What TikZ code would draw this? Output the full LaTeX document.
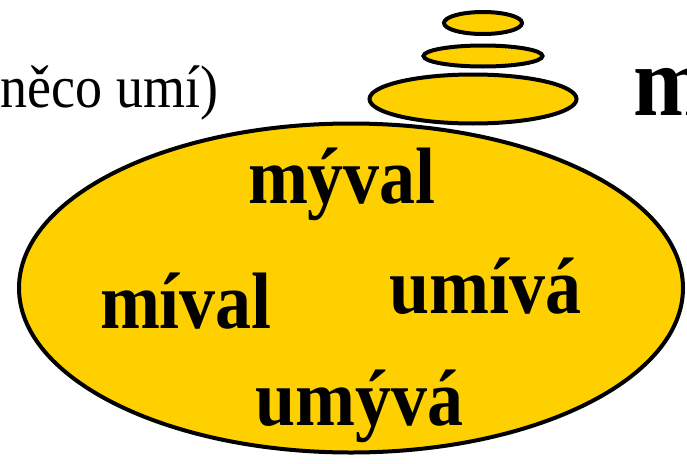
\documentclass[tikz,border=0pt]{standalone}
\usepackage{fontspec}
\newfontfamily\stonefont[FakeStretch=0.9]{Liberation Serif}
\usetikzlibrary{shapes.geometric, positioning}
\definecolor{stoneYellow}{RGB}{255,208,0}
\tikzset{
    x=1pt, y=-1pt, % coordinates follow the pixels of the picture
    every node/.style={inner sep=0pt, outer sep=0pt},
}

\begin{document}
\begin{tikzpicture}[
                                styleStone/.style={ellipse, draw=black, line width=4pt, fill=stoneYellow},
                                styleWord/.style={font=\stonefont\bfseries\fontsize{80}{80}\selectfont},
                            ]
                            \useasboundingbox (0,0) rectangle (687,463);
                            \clip (0,0) rectangle (687,463);
                            % the big stone and the pile on top
                            \node[styleStone, minimum width=664pt, minimum height=329pt] (big) at (351,288) {};
                            \node[styleStone, minimum width=207pt, minimum height=49pt] (pile1) at (473,99) {};
                            \node[styleStone, minimum width=119pt, minimum height=21pt] (pile2) at (483,56) {};
                            \node[styleStone, minimum width=78pt, minimum height=22pt] (pile3) at (483,23) {};
                            % words in the big stone
                            \node[styleWord, anchor=base west] (myval) at (248,203) {mýval};
                            \node[styleWord, anchor=base west] (mival) at (100,328) {míval};
                            \node[styleWord, anchor=base west] (umiva) at (389,313) {umívá};
                            \node[styleWord, anchor=base west] (umyva) at (255,425) {umývá};
                            % texts beside
                            \node[font=\stonefont\fontsize{60}{60}\selectfont, anchor=base east] (left) at (218,107) {něco umí)};
                            \node[font=\stonefont\bfseries\fontsize{100}{100}\selectfont, anchor=base west] (right) at (633,115) {m};
                        \end{tikzpicture}
\end{document}
